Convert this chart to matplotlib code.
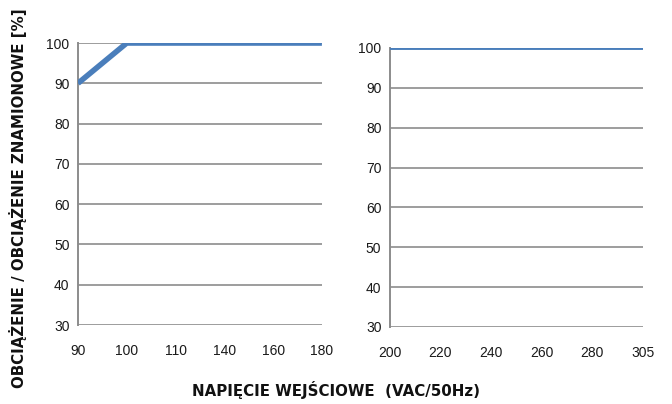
import matplotlib.pyplot as plt

# napiecie wejsciowe (etykiety kategorii) i obciazenie [%]
left_volt = ['90', '100', '110', '140', '160', '180']
left_load = [90, 100, 100, 100, 100, 100]
right_volt = ['200', '220', '240', '260', '280', '305']
right_load = [100, 100, 100, 100, 100, 100]
y_ticks = [30, 40, 50, 60, 70, 80, 90, 100]

line_color = '#4a7ebb'
grid_color = '#8c8c8c'
tick_font = ['Liberation Sans', 'DejaVu Sans']


def draw_panel(ax, labels, values, lw):
    pos = list(range(len(labels)))
    ax.plot(pos, values, color=line_color, lw=lw, solid_capstyle='butt', zorder=3)
    ax.set_xlim(0, len(labels) - 1)
    ax.set_ylim(30, 100)
    ax.set_xticks(pos)
    ax.set_xticklabels(labels)
    ax.set_yticks(y_ticks)
    ax.grid(axis='y', color=grid_color, lw=1.2)
    ax.set_axisbelow(True)
    for s in ['top', 'right', 'bottom']:
        ax.spines[s].set_visible(False)
    ax.spines['left'].set_color(grid_color)
    ax.spines['left'].set_linewidth(1.4)
    ax.tick_params(length=0, labelsize=10, labelcolor='#1a1a1a', pad=6)
    ax.tick_params(axis='x', pad=14)
    for t in ax.get_xticklabels() + ax.get_yticklabels():
        t.set_family(tick_font)


fig = plt.figure(figsize=(6.72, 4.04), dpi=100)
ax1 = fig.add_axes([0.116, 0.1955, 0.363, 0.698])
ax2 = fig.add_axes([0.580, 0.1906, 0.3765, 0.6906])

draw_panel(ax1, left_volt, left_load, 4.0)
draw_panel(ax2, right_volt, right_load, 2.8)

fig.text(0.027, 0.51, 'OBCIĄŻENIE / OBCIĄŻENIE ZNAMIONOWE [%]', rotation=90,
         ha='center', va='center', fontsize=10.8, fontweight='bold', color='#111111')
fig.text(0.50, 0.035, 'NAPIĘCIE WEJŚCIOWE  (VAC/50Hz)', ha='center', va='center',
         fontsize=10.8, fontweight='bold', color='#111111')

fig.savefig('out.png', dpi=100, facecolor='white')
